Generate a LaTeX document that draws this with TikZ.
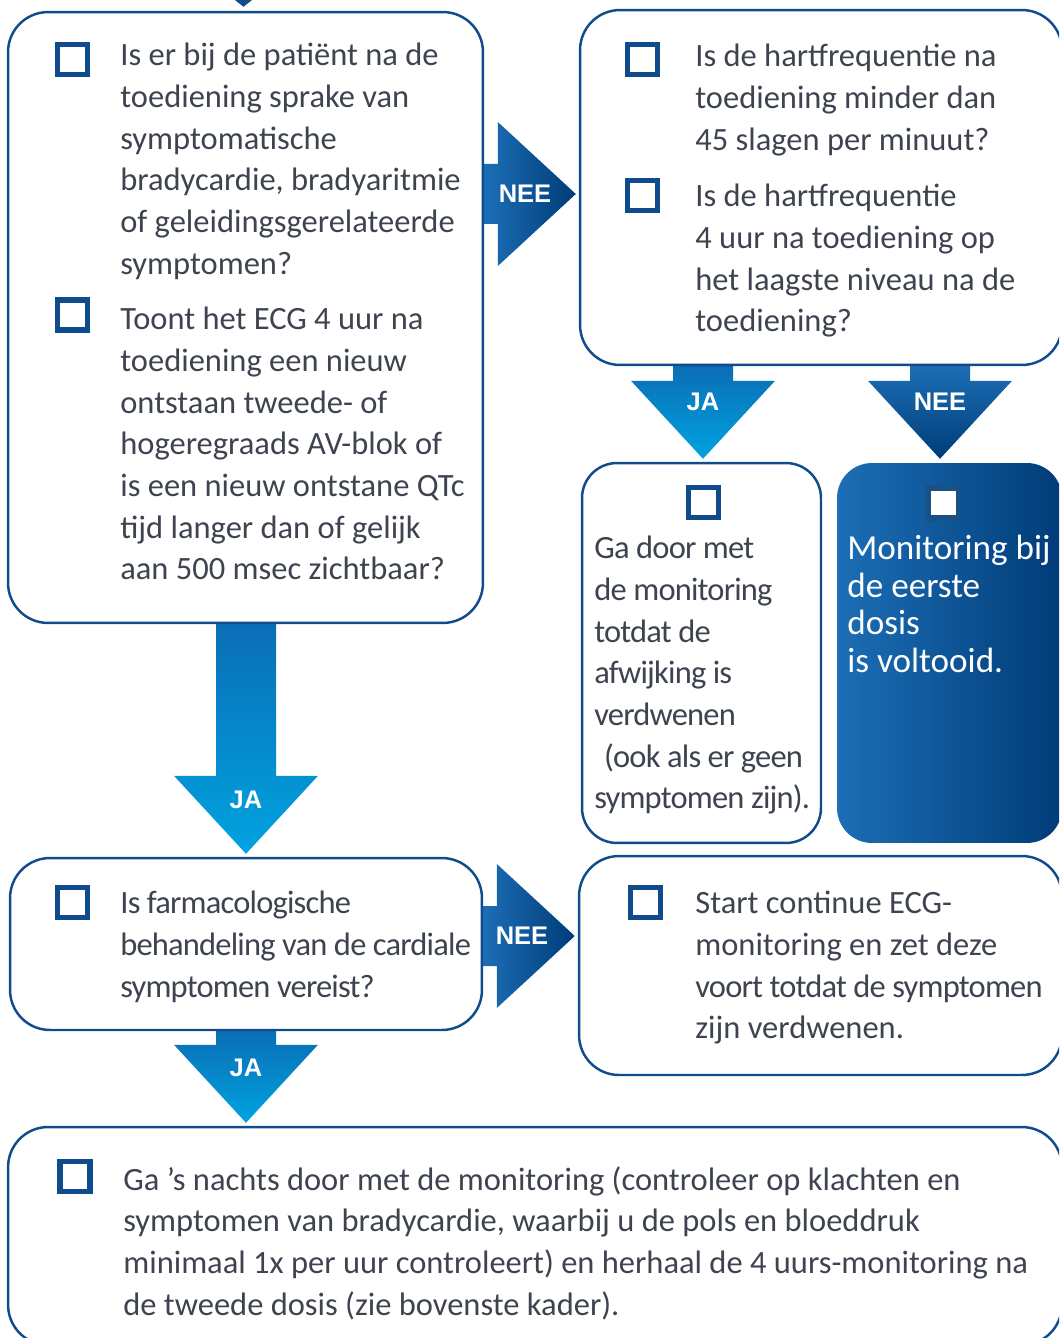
\documentclass[tikz,border=0pt]{standalone}
\usepackage{fontspec}
\setmainfont{Carlito}
\newfontfamily\krap[LetterSpace=-2.5]{Carlito}
\newfontfamily\labelfont{Liberation Sans}
\usetikzlibrary{calc,backgrounds}

\definecolor{kaderblauw}{RGB}{16,76,140}
\definecolor{tekstgrijs}{RGB}{62,67,80}
\definecolor{jaboven}{RGB}{10,110,182}
\definecolor{jaonder}{RGB}{0,163,224}
\definecolor{neelicht}{RGB}{28,110,182}
\definecolor{needonker}{RGB}{0,60,120}

\tikzset{
  kader/.style={draw=kaderblauw, line width=1.4pt, rounded corners=0.8cm, inner sep=0},
  vakje/.style={draw=kaderblauw, line width=3.2pt, fill=white, minimum size=0.6cm, inner sep=0},
  tekst/.style={anchor=north west, align=left, inner sep=0, text=tekstgrijs,
    font=\fontsize{18.5}{23.7}\selectfont},
  kraptekst/.style={tekst, font=\krap\fontsize{18.5}{23.7}\selectfont},
  keuze/.style={text=white, inner sep=0, font=\labelfont\bfseries\fontsize{14.5}{16}\selectfont}
}

\newcommand{\vpijl}[4]{%
  \shade[top color=#3, bottom color=#4]
    ($(#1)+(-30,0)$) -- ($(#2)+(-30,-81)$) -- ($(#2)+(-72,-81)$) -- ($(#2)+(0,-3)$)
    -- ($(#2)+(72,-81)$) -- ($(#2)+(30,-81)$) -- ($(#1)+(30,0)$) -- cycle;}
\newcommand{\hpijl}[4]{%
  \shade[left color=#3, right color=#4]
    ($(#1)+(0,-30)$) -- ($(#2)+(-81,-30)$) -- ($(#2)+(-81,-72)$) -- ($(#2)+(-3,0)$)
    -- ($(#2)+(-81,72)$) -- ($(#2)+(-81,30)$) -- ($(#1)+(0,30)$) -- cycle;}

\begin{document}
\begin{tikzpicture}[x=0.02cm, y=-0.02cm]
\useasboundingbox (0,0) rectangle (1059,1338);
\clip (0,0) rectangle (1059,1338);

\node[kader, minimum width=9.5cm, minimum height=12.22cm] (q1) at (245.5,317.5) {};
\node[kader, minimum width=9.64cm, minimum height=7.1cm] (q2) at (821,187.5) {};
\node[kader, rounded corners=0.7cm, minimum width=4.78cm, minimum height=7.6cm] (a3) at (701.5,653) {};
\node[kader, draw=none, rounded corners=0.7cm, left color=neelicht, right color=needonker,
  minimum width=4.5cm, minimum height=7.6cm] (a4) at (949.5,653) {};
\node[kader, minimum width=9.44cm, minimum height=3.44cm] (q5) at (246,944) {};
\node[kader, minimum width=9.66cm, minimum height=4.38cm] (a6) at (820.5,965.5) {};
\node[kader, minimum width=21.08cm, minimum height=4.36cm] (a7) at (535,1236) {};

\fill[kaderblauw] ($(q1.north)+(-12,-12)$) -- ($(q1.north)+(8,-12)$) -- ($(q1.north)+(-2,-4)$) -- cycle;

\node[vakje] (v1) at (72.5,59.5) {};
\node[vakje] (v2) at (72.5,315) {};
\node[vakje] (v3) at (642.5,59.5) {};
\node[vakje] (v4) at (642.5,195.5) {};
\node[vakje] (v5) at (703.5,502.5) {};
\node[vakje, draw=needonker!90] (v6) at (943.5,503) {};
\node[vakje] (v7) at (72.5,902.5) {};
\node[vakje] (v8) at (645.5,902.5) {};
\node[vakje] (v9) at (75,1176.5) {};

\node[tekst] (t1) at (120,43) {Is er bij de patiënt na de\\toediening sprake van\\symptomatische\\bradycardie, bradyaritmie\\of geleidingsgerelateerde\\symptomen?};
\node[tekst] (t2) at (120,307) {Toont het ECG 4 uur na\\toediening een nieuw\\ontstaan tweede- of\\hogeregraads AV-blok of\\is een nieuw ontstane QTc\\tijd langer dan of gelijk\\aan 500 msec zichtbaar?};
\node[tekst] (t3) at (695,44) {Is de hartfrequentie na\\toediening minder dan\\45 slagen per minuut?};
\node[tekst] (t4) at (695,184) {Is de hartfrequentie\\4 uur na toediening op\\het laagste niveau na de\\toediening?};
\node[kraptekst] (t5) at (594,536) {Ga door met\\de monitoring\\totdat de\\afwijking is\\verdwenen\\\hspace{0.3em}(ook als er geen\\symptomen zijn).};
\node[tekst, text=white, font=\fontsize{20}{21.3}\selectfont] (t6) at (847,535) {Monitoring bij\\de eerste\\dosis\\is voltooid.};
\node[kraptekst] (t7) at (120,891) {Is farmacologische\\behandeling van de cardiale\\symptomen vereist?};
\node[tekst] (t8) at (695,891) {Start continue ECG-\\monitoring en zet deze\\{\krap voort totdat de symptomen}\\zijn verdwenen.};
\node[tekst] (t9) at (123,1166) {Ga 's nachts door met de monitoring (controleer op klachten en\\symptomen van bradycardie, waarbij u de pols en bloeddruk\\minimaal 1x per uur controleert) en herhaal de 4 uurs-monitoring na\\de tweede dosis (zie bovenste kader).};

\node[keuze] (n1) at (525,194) {NEE};
\node[keuze] (j1) at (246,800) {JA};
\node[keuze] (j2) at (703,402) {JA};
\node[keuze] (n2) at (940,402) {NEE};
\node[keuze] (n3) at (522,936) {NEE};
\node[keuze] (j3) at (246,1068) {JA};

\begin{pgfonlayer}{background}
\hpijl{q1.east |- n1}{q2.west |- n1}{neelicht}{needonker}
\vpijl{q1.south -| j1}{q5.north -| j1}{jaboven}{jaonder}
\vpijl{q2.south -| j2}{a3.north -| j2}{jaboven}{jaonder}
\vpijl{q2.south -| n2}{a4.north -| n2}{neelicht}{needonker}
\hpijl{q5.east |- n3}{a6.west |- n3}{neelicht}{needonker}
\vpijl{q5.south -| j3}{a7.north -| j3}{jaboven}{jaonder}
\end{pgfonlayer}
\end{tikzpicture}
\end{document}
